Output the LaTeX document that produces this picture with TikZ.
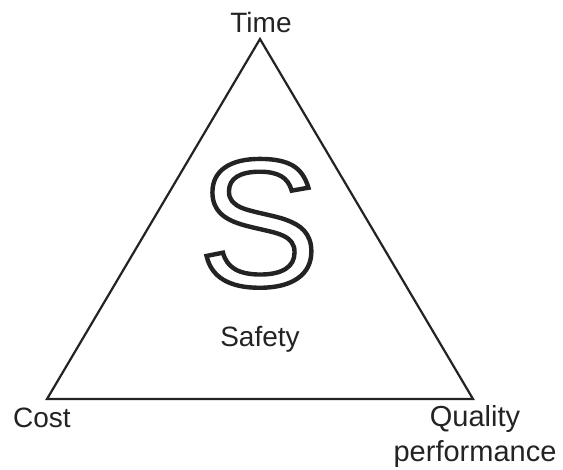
\documentclass[tikz,border=0pt]{standalone}
\usepackage{fontspec}
\setmainfont{Liberation Sans}
\definecolor{inkgray}{RGB}{35,35,35}
\tikzset{
  label text/.style={font=\fontsize{28}{35}\selectfont, text=inkgray, inner sep=0pt, anchor=base},
  side/.style={line width=2.2pt, draw=inkgray, line join=miter}
}
\newcommand{\outlineletter}[1]{\special{pdf:literal direct 1 Tr 4.4 w}#1\special{pdf:literal direct 0 Tr}}

\begin{document}
\begin{tikzpicture}[line cap=round,x=1pt,y=-1pt]
  \useasboundingbox (0,0) rectangle (563,470);
  \coordinate (apex) at (260,39);
  \coordinate (left) at (47,399);
  \coordinate (right) at (473,399);
  \draw[side] (apex) -- (left) -- (right) -- cycle;

  \node[label text] (time) at (261,33) {Time};
  \node[label text] (cost) at (42,428) {Cost};
  % base of a two-line node is its last line
  \node[label text, font=\fontsize{29}{35}\selectfont, align=center] (quality) at (475,462) {Quality\\performance};
  \node[label text] (safety) at (260,347) {Safety};

  % big outlined letter
  \node[inner sep=0pt, anchor=base, text=inkgray, font=\fontsize{182}{182}\selectfont] (bigS) at (259,286) {\outlineletter{S}};
\end{tikzpicture}
\end{document}
